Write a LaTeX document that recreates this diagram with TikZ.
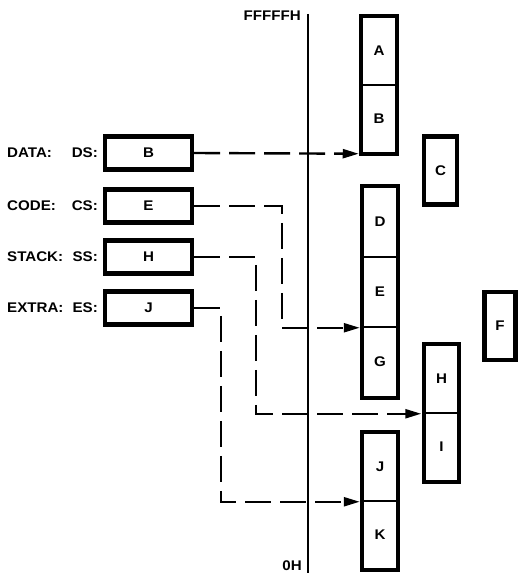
\documentclass[tikz,border=0pt]{standalone}
\usepackage{fontspec}
\setmainfont[FakeStretch=1.08]{Liberation Sans}
\usetikzlibrary{arrows.meta,fit}
\tikzset{
  seg/.style={draw,line width=1.5pt,minimum width=34pt,minimum height=68pt,inner sep=0pt,
    font=\fontsize{14}{16}\selectfont\bfseries},
  frame/.style={draw,line width=4.4pt,inner sep=0pt},
  blk/.style={draw,line width=4.4pt,minimum width=33pt,minimum height=68pt,inner sep=0pt,
    font=\fontsize{14}{16}\selectfont\bfseries},
  reg/.style={draw,line width=4.4pt,minimum width=87pt,minimum height=33pt,inner sep=0pt,
    font=\fontsize{14}{16}\selectfont\bfseries},
  lbl/.style={inner sep=0pt,font=\fontsize{14}{16}\selectfont\bfseries},
  link/.style={-{Triangle[length=16pt,width=9pt]},line width=2.4pt,
    dash pattern=on 26pt off 9pt,shorten >=2.5pt}
}

\begin{document}
\begin{tikzpicture}[x=1pt,y=-1pt]
  \useasboundingbox (0,0) rectangle (518,575);

  % address axis
  \coordinate (hi) at (308,14);
  \coordinate (lo) at (308,573);
  \draw[line width=1.8pt] (hi) -- (lo);
  \node[lbl,anchor=east] (hilbl) at (301,16) {FFFFFH};
  \node[lbl,anchor=east] (lolbl) at (302,566) {0H};

  % segments in memory
  \node[seg] (A) at (379,51) {A};
  \node[seg] (B) at (379,119) {B};
  \node[frame,fit=(A)(B)] (ab) {};
  \node[blk] (C) at (440.5,170.5) {C};
  \node[seg,minimum height=70pt] (D) at (380,222) {D};
  \node[seg,minimum height=70pt] (E) at (380,292) {E};
  \node[seg,minimum height=70pt] (G) at (380,362) {G};
  \node[frame,fit=(D)(E)(G)] (deg) {};
  \node[blk,minimum width=31pt] (F) at (500,326) {F};
  \node[seg] (H) at (441.5,379) {H};
  \node[seg] (I) at (441.5,447) {I};
  \node[frame,fit=(H)(I)] (hi2) {};
  \node[seg] (J) at (380,467) {J};
  \node[seg] (K) at (380,535) {K};
  \node[frame,fit=(J)(K)] (jk) {};

  % segment registers
  \node[reg] (ds) at (148.5,153) {B};
  \node[reg] (cs) at (148.5,206) {E};
  \node[reg] (ss) at (148.5,257) {H};
  \node[reg] (es) at (148.5,308) {J};
  \node[lbl,anchor=west] (data) at (7,153) {DATA:};
  \node[lbl,anchor=east] (dsl) at (98,153) {DS:};
  \node[lbl,anchor=west] (code) at (7,206) {CODE:};
  \node[lbl,anchor=east] (csl) at (98,206) {CS:};
  \node[lbl,anchor=west] (stack) at (7,257) {STACK:};
  \node[lbl,anchor=east] (ssl) at (98,257) {SS:};
  \node[lbl,anchor=west] (extra) at (7,308) {EXTRA:};
  \node[lbl,anchor=east] (esl) at (98,308) {ES:};

  \draw[link] (ds.east) -- (B.south west);
  \draw[link] (cs.east) -| ([xshift=-80pt]E.south west) -- (E.south west);
  \draw[link] (ss.east) -| ([xshift=-167.5pt]H.south west) -- (H.south west);
  \draw[link] (es.east) -| ([xshift=-141pt]J.south west) -- (J.south west);
\end{tikzpicture}
\end{document}
